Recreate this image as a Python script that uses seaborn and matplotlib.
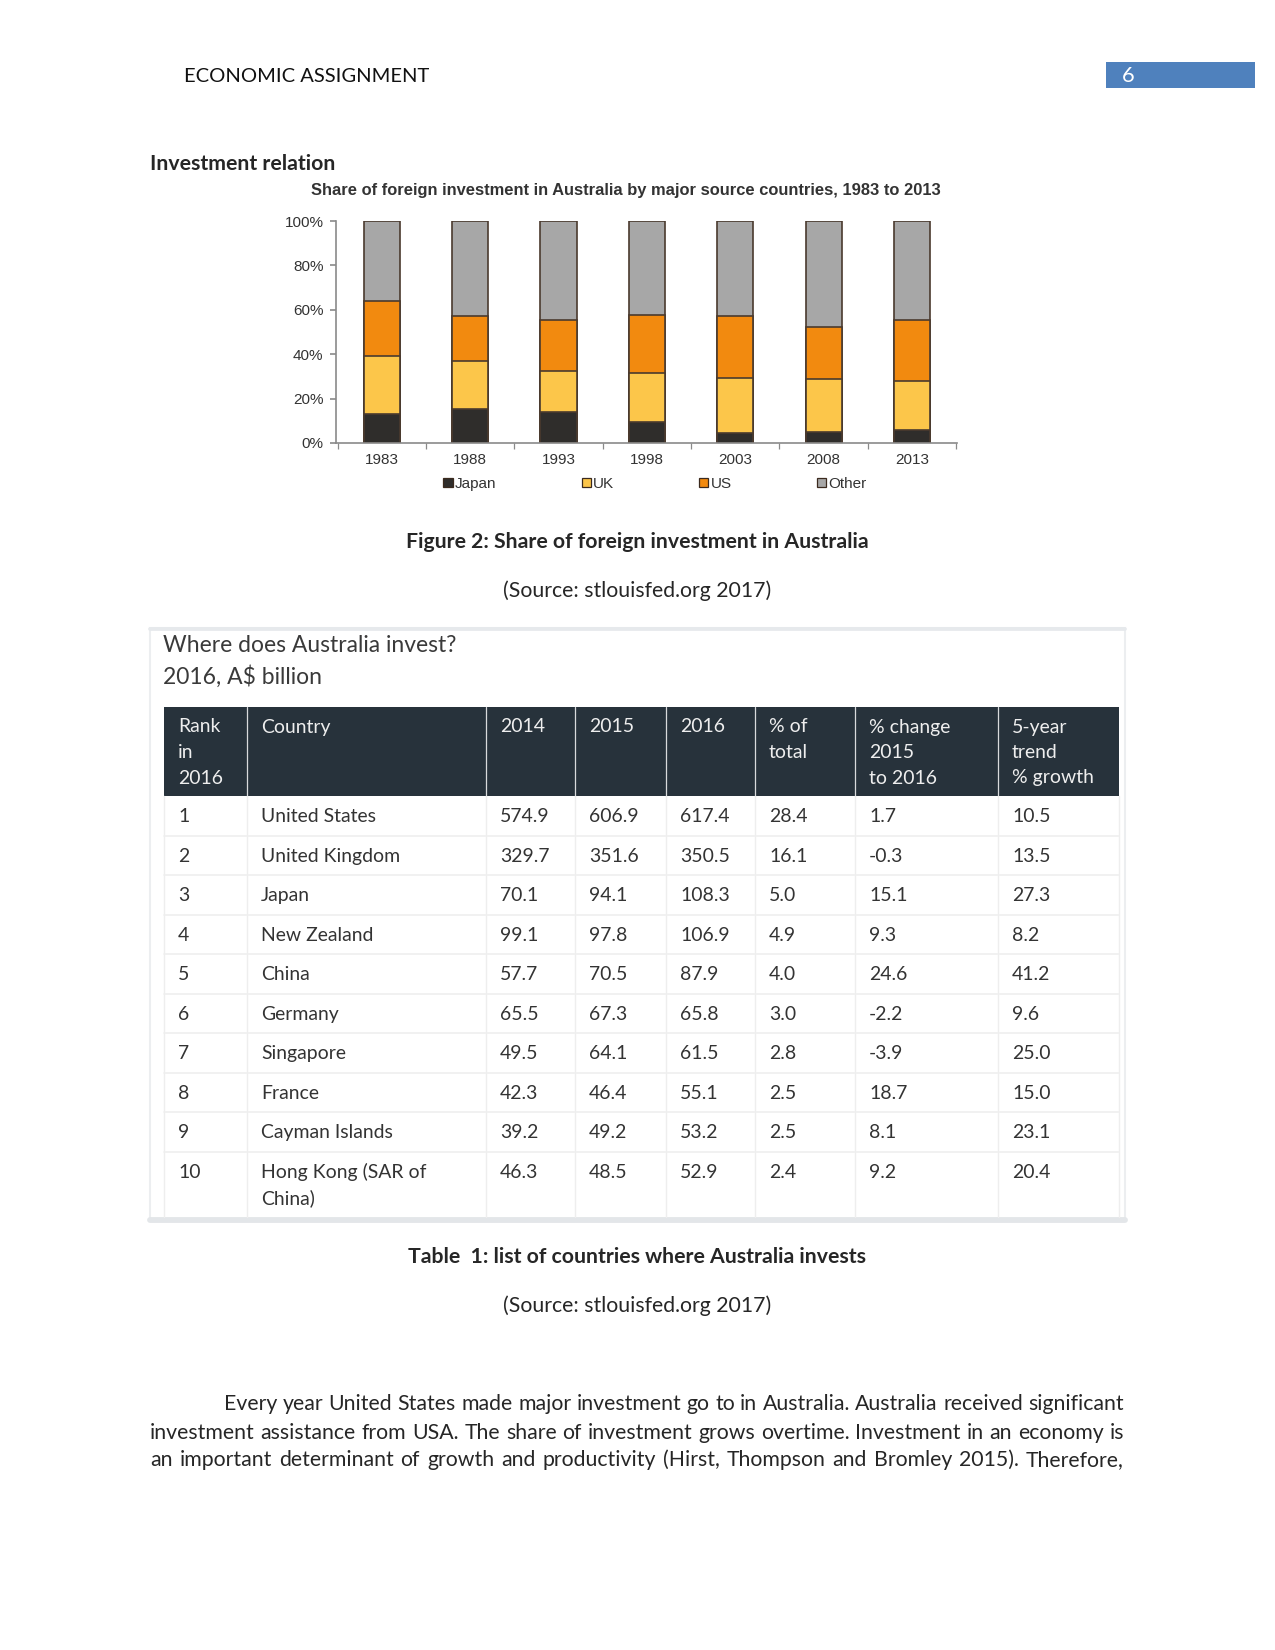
import matplotlib
matplotlib.use("Agg")
import matplotlib.pyplot as plt
from matplotlib.patches import Rectangle, Patch
import seaborn as sns
import pandas as pd

# ---- chart data (share of foreign investment, %) ----
years = ["1983", "1988", "1993", "1998", "2003", "2008", "2013"]
japan = [13.0, 15.3, 14.0, 9.3, 4.5, 5.1, 5.7]
uk = [26.1, 21.8, 18.5, 22.3, 24.8, 23.8, 22.4]
us = [24.7, 20.3, 22.7, 26.1, 27.8, 23.4, 27.1]
other = [36.2, 42.6, 44.8, 42.3, 42.9, 47.7, 44.8]

series_names = ["Japan", "UK", "US", "Other"]
series_colors = ["#2f2d2b", "#fcc64a", "#f28a0f", "#a7a7a7"]

# ---- table data ----
ranks = ["1", "2", "3", "4", "5", "6", "7", "8", "9", "10"]
countries = ["United States", "United Kingdom", "Japan", "New Zealand", "China",
             "Germany", "Singapore", "France", "Cayman Islands", "Hong Kong (SAR of\nChina)"]
v2014 = ["574.9", "329.7", "70.1", "99.1", "57.7", "65.5", "49.5", "42.3", "39.2", "46.3"]
v2015 = ["606.9", "351.6", "94.1", "97.8", "70.5", "67.3", "64.1", "46.4", "49.2", "48.5"]
v2016 = ["617.4", "350.5", "108.3", "106.9", "87.9", "65.8", "61.5", "55.1", "53.2", "52.9"]
pct_total = ["28.4", "16.1", "5.0", "4.9", "4.0", "3.0", "2.8", "2.5", "2.5", "2.4"]
pct_change = ["1.7", "-0.3", "15.1", "9.3", "24.6", "-2.2", "-3.9", "18.7", "8.1", "9.2"]
trend5 = ["10.5", "13.5", "27.3", "8.2", "41.2", "9.6", "25.0", "15.0", "23.1", "20.4"]
header_labels = ["Rank\nin\n2016", "Country", "2014", "2015", "2016",
                 "% of\ntotal", "% change\n2015\nto 2016", "5-year\ntrend\n% growth"]

paragraph = [
    "Every year United States made major investment go to in Australia. Australia received significant",
    "investment assistance from USA.  The share of investment grows overtime. Investment in an economy is",
    "an important determinant of growth and productivity (Hirst, Thompson and Bromley 2015).  Therefore,",
]

sns.set_style("white")
plt.rcParams["font.family"] = ["Lato", "DejaVu Sans"]

W, H = 1275, 1650
fig = plt.figure(figsize=(8.5, 11), dpi=150)
page = fig.add_axes([0, 0, 1, 1])
page.set_xlim(0, W)
page.set_ylim(H, 0)
page.axis("off")

# header
page.text(184, 77, "ECONOMIC ASSIGNMENT", fontsize=9.7, color="#111111", va="center")
page.add_patch(Rectangle((1106, 62), 149, 26, color="#4f81bd", lw=0))
page.text(1122, 76, "6", fontsize=10.5, color="white", va="center")

page.text(150, 164, "Investment relation", fontsize=10.2, fontweight="bold", va="center")

# ---- stacked bar chart ----
ax = fig.add_axes([336 / W, 1 - 443 / H, (957 - 336) / W, (443 - 221) / H])
df = pd.DataFrame({"year": years, "Japan": japan, "UK": uk, "US": us, "Other": other})
cum = df[series_names].cumsum(axis=1)
cum["Other"] = 100.0
for name, col in zip(series_names[::-1], series_colors[::-1]):
    sns.barplot(x=df["year"], y=cum[name], color=col, width=0.41, errorbar=None,
                edgecolor="#4a3a2e", linewidth=0.8, saturation=1, ax=ax)
ax.set_xlim(-0.52, 6.51)
ax.set_ylim(0, 100)
ax.set_xlabel("")
ax.set_ylabel("")
ax.set_yticks([0, 20, 40, 60, 80, 100])
ax.set_yticklabels(["0%", "20%", "40%", "60%", "80%", "100%"])
ax.set_xticks(range(len(years)))
ax.set_xticklabels(years)
ax.set_xticks([i - 0.5 for i in range(len(years) + 1)], minor=True)
for s in ["top", "right"]:
    ax.spines[s].set_visible(False)
for s in ["left", "bottom"]:
    ax.spines[s].set_color("#8a8a8a")
    ax.spines[s].set_linewidth(0.8)
ax.tick_params(axis="y", length=3, color="#8a8a8a", labelsize=7.3, labelcolor="#333333", pad=3, left=True)
ax.tick_params(axis="x", which="major", length=0, labelsize=7.3, labelcolor="#333333", pad=5)
ax.tick_params(axis="x", which="minor", length=3, color="#8a8a8a", bottom=True)
ax.patch.set_alpha(0)
for lbl in ax.get_xticklabels() + ax.get_yticklabels():
    lbl.set_family(["Liberation Sans", "DejaVu Sans"])

fig.text(626 / W, 1 - 191 / H, "Share of foreign investment in Australia by major source countries, 1983 to 2013",
         ha="center", va="center", fontsize=7.9, fontweight="bold", color="#333333",
         family=["Liberation Sans", "DejaVu Sans"])

handles = [Patch(facecolor=c, edgecolor="#3b2a1e", lw=0.6) for c in series_colors]
fig.legend(handles, series_names, loc="center", bbox_to_anchor=(655 / W, 1 - 484 / H), ncol=4,
           frameon=False, handlelength=0.6, handleheight=0.6, handletextpad=0.15, columnspacing=5.6,
           prop={"family": ["Liberation Sans", "DejaVu Sans"], "size": 7.3})
for t in fig.legends[0].get_texts():
    t.set_color("#333333")

page.text(637, 542, "Figure 2: Share of foreign investment in Australia", fontsize=10.2,
          fontweight="bold", ha="center", va="center")
page.text(637, 591, "(Source: stlouisfed.org 2017)", fontsize=10.2, ha="center", va="center")

# ---- table ----
tbl_font = ["Lato", "DejaVu Sans"]
page.add_patch(Rectangle((150, 628), 975, 593, fill=False, edgecolor="#eceef0", lw=1.0))
page.plot([150, 1125], [629, 629], color="#e6e9ec", lw=1.8)
page.plot([150, 1125], [1220, 1220], color="#e3e6e9", lw=2.8)
page.text(163, 645, "Where does Australia invest?", fontsize=11.0, color="#3a3a3a", va="center")
page.text(163, 677, "2016, A$ billion", fontsize=11.0, color="#3a3a3a", va="center")

col_edges = [164, 247, 486, 575, 666, 755, 855, 998, 1119]
head_top, head_bot = 707, 796
row_h = 39.5
n_rows = len(ranks)
body_bot = 1217

page.add_patch(Rectangle((col_edges[0], head_top), col_edges[-1] - col_edges[0], head_bot - head_top,
                         color="#27323b", lw=0))
for x in col_edges[1:-1]:
    page.plot([x, x], [head_top, head_bot], color="#d8dadc", lw=0.6)
    page.plot([x, x], [head_bot, body_bot], color="#eeeeee", lw=0.7)
for x in (col_edges[0], col_edges[-1]):
    page.plot([x, x], [head_bot, body_bot], color="#eeeeee", lw=0.7)
for i in range(1, n_rows):
    y = head_bot + i * row_h
    page.plot([col_edges[0], col_edges[-1]], [y, y], color="#efefef", lw=0.8)

for x0, lab in zip(col_edges[:-1], header_labels):
    for k, line in enumerate(lab.split("\n")):
        page.text(x0 + 14, 727 + k * 25.5, line, fontsize=9.3, color="#eeeeee", va="center", family=tbl_font)

columns = [ranks, countries, v2014, v2015, v2016, pct_total, pct_change, trend5]
for x0, col in zip(col_edges[:-1], columns):
    for i, val in enumerate(col):
        yc = head_bot + i * row_h + row_h / 2 + 1
        for k, line in enumerate(val.split("\n")):
            page.text(x0 + 14, yc + k * 25.5, line, fontsize=9.3, color="#333333",
                      va="center", family=tbl_font)

page.text(637, 1257, "Table  1: list of countries where Australia invests", fontsize=10.2,
          fontweight="bold", ha="center", va="center")
page.text(637, 1306, "(Source: stlouisfed.org 2017)", fontsize=10.2, ha="center", va="center")

# ---- justified paragraph ----
fig.canvas.draw()
rend = fig.canvas.get_renderer()
line_y = [1404, 1433, 1460]
line_x0 = [224, 150, 150]
for text, y, x0 in zip(paragraph, line_y, line_x0):
    words = text.split()
    items = [page.text(0, y, w, fontsize=10.2, va="center") for w in words]
    widths = [t.get_window_extent(rend).width for t in items]
    gap = (1124 - x0 - sum(widths)) / (len(words) - 1)
    x = x0
    for t, w in zip(items, widths):
        t.set_x(x)
        x += w + gap

fig.savefig("out.png", dpi=150, facecolor="white")
